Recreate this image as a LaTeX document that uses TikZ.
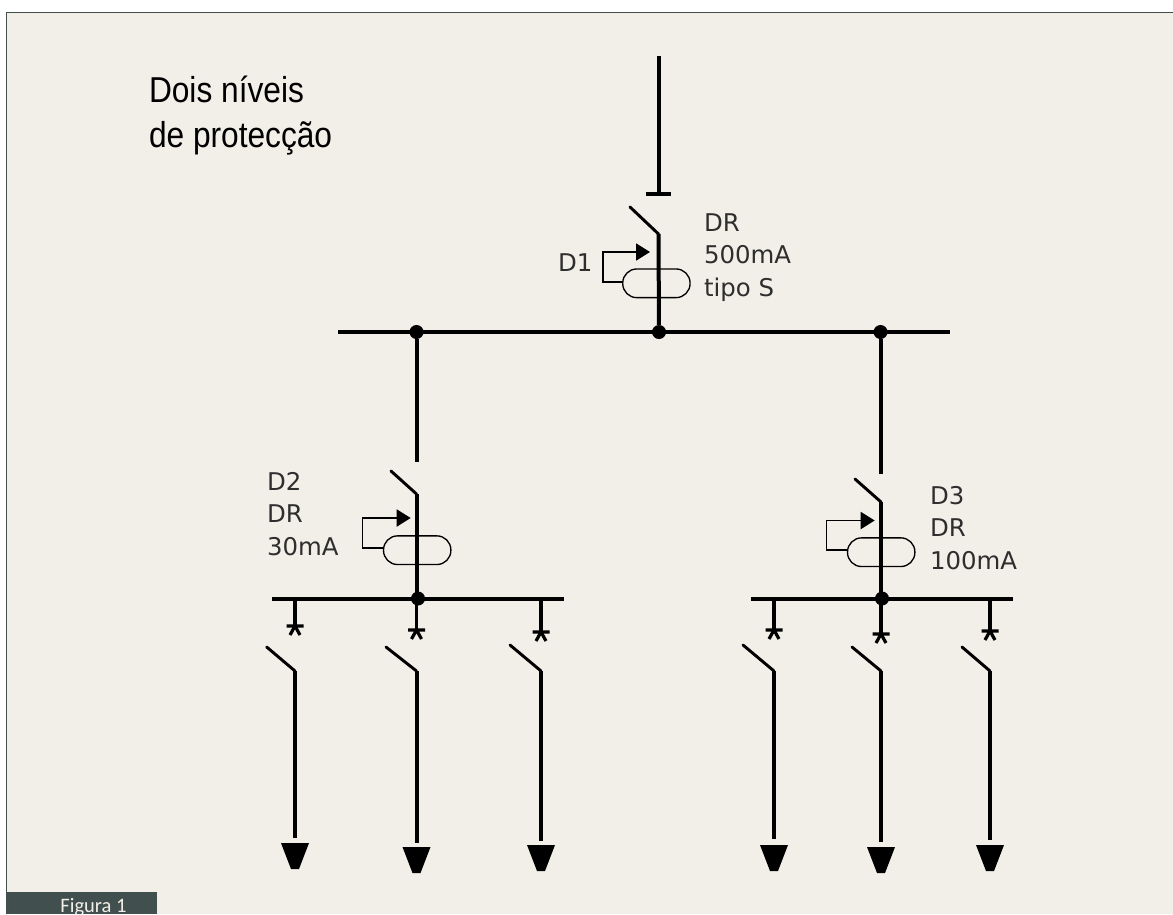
\documentclass[tikz,border=0pt]{standalone}
\usepackage{fontspec}
\usepackage{tikz}
\usetikzlibrary{arrows.meta}
\setmainfont{Liberation Sans}
\newfontfamily\labelfont{DejaVu Sans}
\newfontfamily\titlefont[FakeStretch=0.88]{Liberation Sans}
\newfontfamily\tabfont{Carlito}
\definecolor{panelbg}{HTML}{F2EFE8}
\definecolor{panelline}{HTML}{414F4F}
\definecolor{labelgray}{HTML}{2E2E2E}

\begin{document}
\begin{tikzpicture}[
                    x=0.75pt, y=-0.75pt,
                    every node/.style={inner sep=0pt, outer sep=0pt},
                    wire/.style={line width=3pt, black},
                    bus/.style={line width=3pt, black},
                    blade/.style={line width=2.2pt, black, line cap=round},
                    junction/.style={circle, fill=black, minimum size=10.5pt},
                    sensor/.style={draw=black, line width=1pt, rounded corners=10.5pt, minimum width=50.5pt, minimum height=21.5pt},
                    trip/.style={line width=1.4pt, black, -{Triangle[length=10.5pt, width=12.75pt]}},
                    lbl/.style={font=\labelfont\fontsize{18.3pt}{24.4pt}\selectfont, text=labelgray, align=left, anchor=west},
                    pics/load/.style={code={\fill[black] (-14,0) -- (14,0) -- (4,26) -- (-4,26) -- cycle;}},
                    pics/fuse/.style={code={\draw[line width=2.4pt, black] (-8.5,-2) -- (8.5,-2) (-5,7) -- (0,-2) -- (5,7);}}
                ]
    \useasboundingbox (0,0) rectangle (1173,914);

    % Panel
    \fill[panelbg] (6.5,12.5) rectangle (1173,914);
    \draw[panelline, line width=0.9pt] (6.5,914) -- (6.5,12.5) -- (1173,12.5);
    \fill[panelline] (6,892) rectangle (157,914);
    \node (tab) [font=\tabfont\fontsize{15.4pt}{18pt}\selectfont, text=panelbg, anchor=base] at (93.5,912.5) {Figura 1};
    \node (title) [font=\titlefont\fontsize{27pt}{33.75pt}\selectfont, align=left, anchor=west] at (149,115.5) {Dois níveis\\de protecção};

    % Junctions
    \node (topdot) [junction] at (659,332) {};
    \node (leftdot) [junction] at (416.5,332) {};
    \node (rightdot) [junction] at (880.5,332) {};
    \node (lowleft) [junction] at (418,598.5) {};
    \node (lowright) [junction] at (882,598.5) {};

    % Busbars
    \coordinate (busa) at (338,332);
    \coordinate (busb) at (950,332);
    \draw[bus] (busa) -- (busb);
    \coordinate (busc) at (272,598.5);
    \coordinate (busd) at (564,598.5);
    \draw[wire] (busc) -- (busd);
    \coordinate (buse) at (751,598.5);
    \coordinate (busf) at (1013,598.5);
    \draw[wire] (buse) -- (busf);

    % Incoming line of D1
    \coordinate (supply) at (658.5,56);
    \coordinate (stop) at (658.5,194);
    \draw[wire] (supply) -- (stop);
    \draw[wire] (646,194) -- (671,194);

    % Breaker D1
    \coordinate (hinge1) at (658.5,234);
    \draw[blade] (630,207) -- (hinge1);
    \draw[wire] (hinge1) -- (topdot);
    \node (ct1) [sensor] at (656.4,283.3) {};
    \coordinate (tip1) at (650,252);
    \draw[trip] ([yshift=1.2pt]ct1.west) -- ++(-20,0) |- (tip1);
    \node (lblone) [lbl] at (558,262.5) {D1};
    \node (lbltwo) [lbl] at (704,257.5) {DR\\500mA\\tipo S};

    % Breaker D2
    \coordinate (gap2) at (416.5,461.5);
    \draw[wire] (leftdot) -- (gap2);
    \coordinate (hinge2) at (416.5,494);
    \draw[blade] (391,471) -- (hinge2);
    \draw[wire] (hinge2) -- (416.5,598.5);
    \node (ct2) [sensor] at (417.2,550.2) {};
    \coordinate (tip2) at (410.7,518);
    \draw[trip] ([yshift=1.5pt]ct2.west) -- ++(-21,0) |- (tip2);
    \node (lblthree) [lbl] at (267,514) {D2\\DR\\30mA};

    % Breaker D3
    \coordinate (gap3) at (880.5,474);
    \draw[wire] (rightdot) -- (gap3);
    \coordinate (hinge3) at (881,502);
    \draw[blade] (855,479) -- (hinge3);
    \draw[wire] (hinge3) -- (881,598.5);
    \node (ct3) [sensor] at (881.2,552.2) {};
    \coordinate (tip3) at (874.7,520.5);
    \draw[trip] ([yshift=1.5pt]ct3.west) -- ++(-21,0) |- (tip3);
    \node (lblfour) [lbl] at (930,528) {D3\\DR\\100mA};

    % Outgoing feeders
    \foreach \x/\fy/\bx/\by/\ex/\ty in {295/628/266.7/647/838/843,
                                        416.5/632/386/647/843/847,
                                        541/634/510/645/841/845,
                                        774/632/743/645/839/845,
                                        881/636/852/647/842/847,
                                        990/633/962/647/840/845}{
        \coordinate (fuse) at (\x,\fy);
        \coordinate (hinge) at (\x,671);
        \coordinate (tail) at (\x,\ex);
        \draw[wire, line width=2.5pt] (\x,598.5) -- (fuse);
        \pic at (fuse) {fuse};
        \draw[blade] (\bx,\by) -- (hinge);
        \draw[wire] (hinge) -- (tail);
        \pic at (\x,\ty) {load};
    }

\end{tikzpicture}
\end{document}
